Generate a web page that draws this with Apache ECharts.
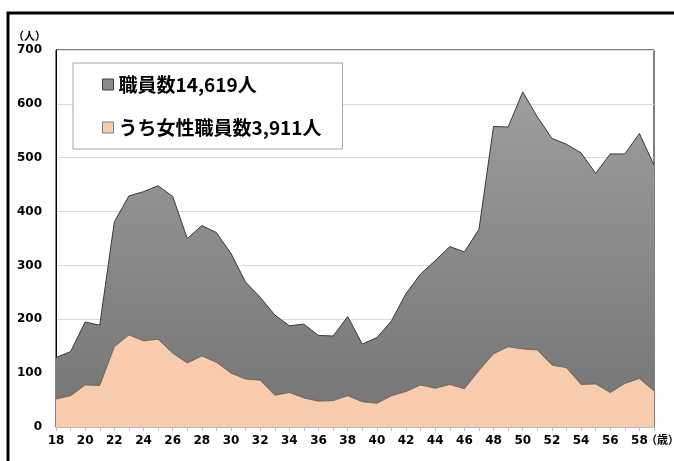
<!DOCTYPE html>
<html>
<head>
<meta charset="utf-8">
<script src="https://cdn.jsdelivr.net/npm/echarts@6/dist/echarts.min.js"></script>
<style>
  html, body { margin: 0; padding: 0; background: #fff; }
  #chart { width: 674px; height: 461px; }
</style>
</head>
<body>
<div id="chart"></div>
<script>
// 年齢（18〜59歳）
const ages = [];
for (let a = 18; a <= 59; a++) ages.push(String(a));

// 職員数（全体）
const totalStaff = [
  129, 140, 195, 189, 381, 429, 437, 448, 428, 350,
  374, 361, 322, 269, 241, 208, 188, 191, 170, 169,
  205, 154, 166, 197, 248, 284, 309, 335, 325, 367,
  558, 557, 622, 576, 536, 525, 509, 471, 507, 507,
  545, 486
];

// うち女性職員数
const femaleStaff = [
  52, 58, 78, 77, 149, 171, 160, 163, 137, 119,
  132, 120, 100, 89, 87, 59, 64, 54, 48, 49,
  58, 47, 44, 58, 66, 78, 72, 79, 71, 105,
  136, 149, 145, 143, 115, 110, 79, 80, 64, 81,
  90, 67
];

const yTicks = { min: 0, max: 700, step: 100 };

const chart = echarts.init(document.getElementById('chart'));
const bold = { fontFamily: 'DejaVu Sans', fontWeight: 'bold', color: '#000' };

chart.setOption({
  backgroundColor: '#fff',
  animation: false,
  graphic: [
    { type: 'rect', shape: { x: 8, y: 13, width: 700, height: 520 },
      style: { fill: 'none', stroke: '#000', lineWidth: 3 }, z: 100 },
    // x軸の単位
    { type: 'text', left: 646, top: 434,
      style: { text: '（歳）', fill: '#000', font: 'bold 11px "Noto Sans CJK JP"' } }
  ],
  grid: {
    left: 56, right: 20, top: 50, bottom: 34,
    containLabel: false,
    outerBoundsMode: 'none',
    show: true, borderColor: '#000', borderWidth: 1
  },
  legend: {
    left: 73, top: 63,
    orient: 'vertical',
    backgroundColor: '#fff',
    borderColor: '#a6a6a6', borderWidth: 1,
    padding: [12, 21, 12, 29],
    itemGap: 24,
    itemWidth: 11, itemHeight: 11,
    icon: 'rect',
    textStyle: { fontFamily: 'Noto Sans CJK JP', fontWeight: 'bold', fontSize: 19, color: '#000' },
    data: [
      { name: '職員数14,619人', itemStyle: { color: '#8c8c8c', borderColor: '#404040', borderWidth: 1 } },
      { name: 'うち女性職員数3,911人', itemStyle: { color: '#f8cbad', borderColor: '#7f7f7f', borderWidth: 1 } }
    ]
  },
  xAxis: {
    type: 'category',
    data: ages,
    boundaryGap: false,
    axisLine: { lineStyle: { color: '#bfbfbf' } },
    axisTick: { show: true, interval: 0, length: 4, lineStyle: { color: '#bfbfbf' } },
    axisLabel: Object.assign({ fontSize: 12, margin: 8, interval: (i) => i % 2 === 0 }, bold)
  },
  yAxis: {
    type: 'value',
    min: yTicks.min, max: yTicks.max, interval: yTicks.step,
    name: '（人）',
    nameLocation: 'end',
    nameGap: 9,
    nameTextStyle: Object.assign({ fontSize: 11, align: 'right', padding: [0, 10, 0, 0] }, bold,
      { fontFamily: 'Noto Sans CJK JP' }),
    axisLine: { show: true, lineStyle: { color: '#000' } },
    axisTick: { show: false },
    axisLabel: Object.assign({ fontSize: 12, margin: 14 }, bold),
    splitLine: { lineStyle: { color: '#d9d9d9' } }
  },
  series: [
    {
      name: '職員数14,619人',
      type: 'line',
      data: totalStaff,
      symbol: 'none',
      lineStyle: { color: '#3a3a3a', width: 1 },
      itemStyle: { color: '#8c8c8c' },
      areaStyle: {
        opacity: 1,
        color: new echarts.graphic.LinearGradient(0, 0, 0, 1, [
          { offset: 0, color: '#9d9d9d' },
          { offset: 1, color: '#747474' }
        ])
      }
    },
    {
      name: 'うち女性職員数3,911人',
      type: 'line',
      data: femaleStaff,
      symbol: 'none',
      lineStyle: { color: '#5a5a5a', width: 0.8 },
      itemStyle: { color: '#f8cbad' },
      areaStyle: { opacity: 1, color: '#f8cbad' }
    }
  ]
});
</script>
</body>
</html>
